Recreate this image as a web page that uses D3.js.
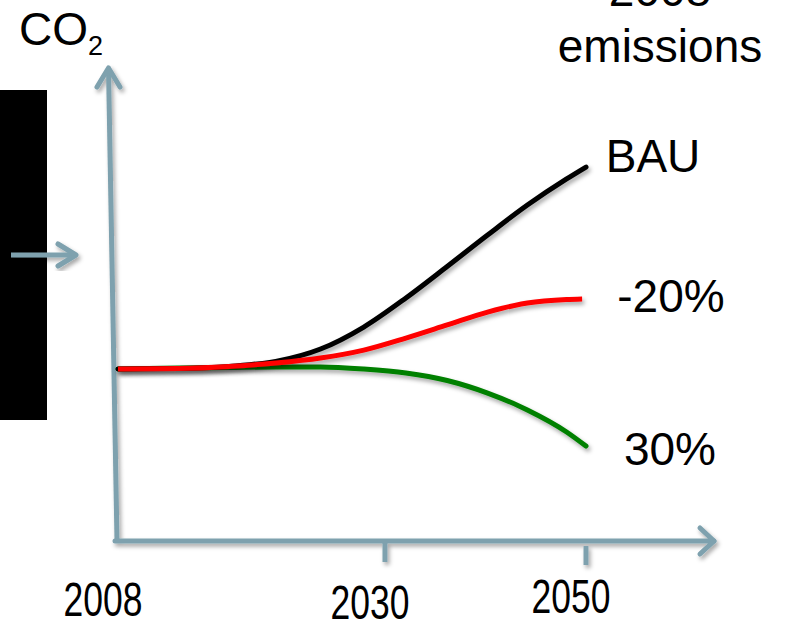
<!DOCTYPE html>
<html>
<head>
<meta charset="utf-8">
<script src="https://cdn.jsdelivr.net/npm/d3@7"></script>
<style>
  html, body { margin: 0; padding: 0; background: #fff; }
  svg { display: block; font-family: "Liberation Sans", Arial, sans-serif; }
</style>
</head>
<body>
<svg id="chart" width="797" height="620"></svg>
<script>
// Emission pathways, indexed to 2008 = 100
const years      = [2008, 2012, 2016, 2020, 2024, 2028, 2032, 2036, 2040, 2044, 2048, 2050];
const bau        = [100, 100.3, 101.5, 104.4, 111.6, 124.4, 141.3, 159.6, 177.9, 195.3, 210.5, 217.4];
const minus20    = [100, 100.3, 101.5, 103.5, 106.4, 111, 118, 125.6, 133.1, 138.4, 140.4, 140.7];
const minus30    = [100, 100.6, 100.9, 101.2, 101.2, 100, 97.7, 93.3, 86, 76.2, 63.4, 55.2];
const baseline   = [100, 100];
const baseYears  = [2008, 2049.6];

const seriesNames  = ["BAU", "-20%", "30%"];
const seriesColors = ["#000000", "#ff0000", "#008000"];
const seriesEnd    = [2050, 2049.6, 2050];

const tickYears   = [2030, 2050];
const labelYears  = [2008, 2030, 2050];
const labelTexts  = ["2008", "2030", "2050"];

const axisColor = "#7ea1ae";

const svg = d3.select("#chart");

// drop shadow used by lines and arrows
const defs = svg.append("defs");
const f = defs.append("filter").attr("id", "shadow")
  .attr("x", "-20%").attr("y", "-20%").attr("width", "140%").attr("height", "140%");
f.append("feDropShadow").attr("dx", 2).attr("dy", 3).attr("stdDeviation", 2)
  .attr("flood-color", "#000").attr("flood-opacity", 0.35);

// time axis: gently compressed toward later years
const xs = d3.scalePow().exponent(0.868).domain([0, 42]).range([118, 586]);
const x = yr => xs(yr - 2008);
const y = d3.scaleLinear().domain([0, 100]).range([541, 369]);

// black panel on the left
svg.append("rect").attr("x", 0).attr("y", 90).attr("width", 47).attr("height", 330).attr("fill", "#000");

// axes drawn as arrows
const axisG = svg.append("g").attr("filter", "url(#shadow)")
  .attr("stroke", axisColor).attr("stroke-width", 5).attr("fill", "none")
  .attr("stroke-linecap", "round").attr("stroke-linejoin", "round");

const x0 = x(2008), y0 = y(0);
// y axis (leans slightly)
axisG.append("line").attr("x1", x0 - 1).attr("y1", y0).attr("x2", 108.5).attr("y2", 68).attr("stroke-linecap", "butt");
axisG.append("path").attr("d", `M97,87 L108.5,68 L120,87`);
// x axis
axisG.append("line").attr("x1", x0 - 3).attr("y1", y0).attr("x2", 714).attr("y2", y0);
axisG.append("path").attr("d", `M700,528 L714,${y0} L700,554`);

// ticks
axisG.selectAll("line.tick").data(tickYears).join("line").attr("class", "tick")
  .attr("stroke-linecap", "butt")
  .attr("x1", d => x(d)).attr("x2", d => x(d))
  .attr("y1", (d, i) => y0 + 2 + i * 3).attr("y2", (d, i) => y0 + 21 + i * 3);

// pointer arrow on the left
const ptr = svg.append("g").attr("filter", "url(#shadow)")
  .attr("stroke", axisColor).attr("stroke-width", 5).attr("fill", "none")
  .attr("stroke-linecap", "round").attr("stroke-linejoin", "round");
ptr.append("line").attr("x1", 11).attr("y1", 255).attr("x2", 75).attr("y2", 255).attr("stroke-linecap", "butt");
ptr.append("path").attr("d", "M58,244 L76,255 L58,266");

// baseline dashed line (2008 level)
const line = d3.line().x(d => x(d[0])).y(d => y(d[1])).curve(d3.curveMonotoneX);
svg.append("path")
  .datum(baseYears.map((yr, i) => [yr, baseline[i]]))
  .attr("d", line)
  .attr("fill", "none").attr("stroke", axisColor).attr("stroke-width", 5)
  .attr("stroke-dasharray", "20,17").attr("stroke-dashoffset", 3)
  .attr("filter", "url(#shadow)");

// emission pathways
const seriesData = [bau, minus20, minus30];
const drawOrder = [2, 0, 1];
drawOrder.forEach(k => {
  const vals = seriesData[k];
  const pts = years.map((yr, i) => [i === years.length - 1 ? seriesEnd[k] : yr, vals[i]]);
  svg.append("path")
    .datum(pts)
    .attr("d", line)
    .attr("fill", "none")
    .attr("stroke", seriesColors[k])
    .attr("stroke-width", 5)
    .attr("stroke-linecap", k === 1 ? "butt" : "round")
    .attr("filter", "url(#shadow)");
});

// series labels
const labelPos = [[653, 172], [671, 312], [670, 465]];
svg.selectAll("text.series").data(seriesNames).join("text").attr("class", "series")
  .attr("x", (d, i) => labelPos[i][0]).attr("y", (d, i) => labelPos[i][1])
  .attr("text-anchor", "middle").attr("font-size", 46).attr("fill", "#000")
  .text(d => d);

// top-right note
svg.append("text").attr("x", 660).attr("y", 6).attr("text-anchor", "middle")
  .attr("font-size", 46).text("2008");
svg.append("text").attr("x", 660).attr("y", 62).attr("text-anchor", "middle")
  .attr("font-size", 46).text("emissions");

// y axis title
const co2 = svg.append("text").attr("x", 19).attr("y", 45).attr("font-size", 46);
co2.append("tspan").text("CO");
co2.append("tspan").attr("font-size", 27).attr("dy", 10).text("2");

// year labels (condensed)
const labelDy = [75, 78, 72];
svg.selectAll("text.year").data(labelYears).join("text").attr("class", "year")
  .attr("transform", (d, i) => `translate(${x(d) - 15},${y0 + labelDy[i]}) scale(0.74,1)`)
  .attr("text-anchor", "middle").attr("font-size", 48).attr("fill", "#000")
  .text((d, i) => labelTexts[i]);
</script>
</body>
</html>
